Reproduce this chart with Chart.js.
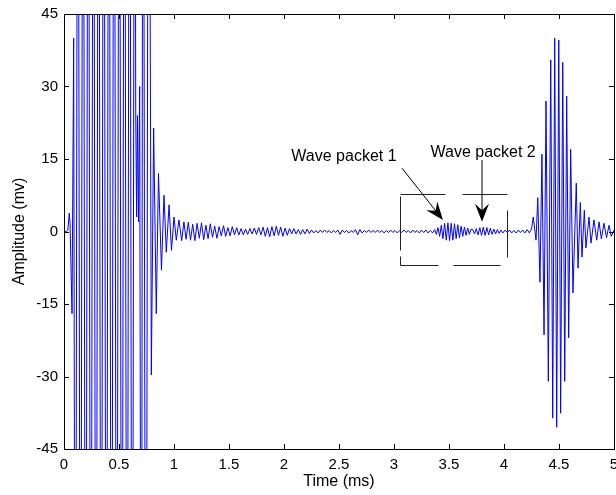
<!DOCTYPE html>
<html>
<head>
<meta charset="utf-8">
<script src="https://cdn.jsdelivr.net/npm/chart.js@4.4.0/dist/chart.umd.min.js"></script>
<style>
  html, body { margin: 0; padding: 0; background: #fff; }
</style>
</head>
<body>
<canvas id="signalChart" width="616" height="495"></canvas>
<script>
// Axis ticks (ms and mV)
const timeTicks = [0, 0.5, 1, 1.5, 2, 2.5, 3, 3.5, 4, 4.5, 5];
const ampTicks = [-45, -30, -15, 0, 15, 30, 45];

// Excitation burst (saturated, goes off the axes) and its ring-down
const onsetTime = [0, 0.02, 0.035, 0.048, 0.055, 0.073, 0.088,
  0.103, 0.126, 0.150, 0.173, 0.197, 0.220, 0.244, 0.267, 0.291, 0.314, 0.338, 0.361,
  0.385, 0.408, 0.432, 0.455, 0.479, 0.502, 0.526, 0.549, 0.573, 0.596, 0.620, 0.643,
  0.652, 0.660, 0.668, 0.677, 0.688, 0.703, 0.718, 0.745, 0.769,
  0.794, 0.815, 0.839, 0.859, 0.886, 0.909, 0.930, 0.955, 0.977, 1.0, 1.021, 1.045];
const onsetAmp = [0, 0, 0.3, 3.8, 1.8, -17, 40,
  -150, 150, -150, 150, -150, 150, -150, 150, -150, 150, -150, 150,
  -150, 150, -150, 150, -150, 150, -150, 150, -150, 150, -150, 150,
  25, 3, 24, 2, 30, -150, 150, -150, 150,
  -29.7, 21.4, -17, 12, -8, 7.5, -4.3, 5.5, -3.9, 3, -1.8, 2.4];

// Residual ripple after the burst
const rippleTime = [1.07, 1.09, 1.11, 1.13, 1.15, 1.17, 1.19, 1.21, 1.23, 1.25,
  1.27, 1.29, 1.31, 1.33, 1.35, 1.37, 1.39, 1.41, 1.43, 1.45,
  1.47, 1.49, 1.51, 1.53, 1.55, 1.57, 1.59, 1.61, 1.63, 1.65,
  1.67, 1.69, 1.71, 1.73, 1.75, 1.77, 1.79, 1.81, 1.83, 1.85,
  1.87, 1.89, 1.91, 1.93, 1.95, 1.97, 1.99, 2.01, 2.03, 2.05,
  2.07, 2.09, 2.11, 2.13, 2.15, 2.17, 2.19, 2.21, 2.23, 2.25];
const rippleAmp = [-1.9, 2.0, -1.6, 1.9, -1.8, 1.5, -1.9, 1.7, -1.4, 1.8,
  -1.7, 1.3, -1.5, 1.6, -1.2, 1.1, -1.4, 1.0, -0.9, 1.2,
  -1.0, 0.8, -0.9, 1.0, -0.7, 0.8, -0.7, 0.6, -0.7, 0.5,
  -0.6, 0.6, -0.5, 0.7, -0.6, 0.8, -0.7, 0.9, -1.0, 0.8,
  -1.1, 1.0, -0.9, 1.1, -0.8, 0.9, -1.0, 0.7, -0.8, 0.6,
  -0.5, 0.6, -0.5, 0.4, -0.6, 0.4, -0.5, 0.5, -0.4, 0.3];

// Quiet stretch
const quietTime = [2.27, 2.29, 2.31, 2.33, 2.35, 2.37, 2.39, 2.41, 2.43, 2.45,
  2.47, 2.49, 2.51, 2.53, 2.55, 2.57, 2.59, 2.61, 2.63, 2.65,
  2.67, 2.69, 2.71, 2.73, 2.75, 2.77, 2.79, 2.81, 2.83, 2.85,
  2.87, 2.89, 2.91, 2.93, 2.95, 2.97, 2.99, 3.01, 3.03, 3.05,
  3.07, 3.09, 3.11, 3.13, 3.15, 3.17, 3.19, 3.21, 3.23, 3.25,
  3.27, 3.29, 3.31, 3.33, 3.35];
const quietAmp = [-0.3, 0.2, -0.3, 0.3, -0.2, 0.3, -0.2, 0.2, -0.3, 0.2,
  -0.2, 0.3, -0.6, 0.3, -0.2, 0.2, -0.3, 0.2, -0.2, 0.4,
  -0.7, 0.4, -0.3, 0.2, -0.2, 0.3, -0.2, 0.2, -0.2, 0.3,
  -0.2, 0.2, -0.3, 0.2, -0.2, 0.3, -0.2, 0.2, -0.3, 0.2,
  -0.2, 0.3, -0.2, 0.2, -0.3, 0.3, -0.2, 0.2, -0.3, 0.3,
  -0.2, 0.3, -0.3, 0.2, -0.3];

// Wave packet 1
const packet1Time = [3.37, 3.385, 3.40, 3.415, 3.43, 3.445, 3.46, 3.475, 3.49, 3.505,
  3.52, 3.535, 3.55, 3.565, 3.58, 3.595, 3.61, 3.625, 3.64, 3.655, 3.67, 3.685, 3.70];
const packet1Amp = [0.4, -0.6, 0.8, -1.0, 1.3, -1.5, 1.7, -1.8, 1.8, -1.9,
  1.7, -1.8, 1.6, -1.5, 1.4, -1.3, 1.1, -1.0, 0.9, -0.8, 0.7, -0.6, 0.5];

// Wave packet 2
const packet2Time = [3.716, 3.732, 3.748, 3.764, 3.78, 3.796, 3.812, 3.828, 3.844,
  3.86, 3.876, 3.892, 3.908, 3.924, 3.94, 3.956, 3.972];
const packet2Amp = [0.4, -0.5, 0.6, -0.7, 0.8, -0.8, 0.9, -0.8, 0.8,
  -0.7, 0.7, -0.6, 0.5, -0.5, 0.4, -0.4, 0.3];

// Before the echo
const gapTime = [3.99, 4.01, 4.03, 4.05, 4.07, 4.09, 4.11, 4.13, 4.15, 4.17, 4.19, 4.21, 4.23, 4.25];
const gapAmp = [-0.3, 0.3, -0.2, 0.3, -0.3, 0.2, -0.3, 0.3, -0.2, 0.3, -0.3, 0.4, -0.3, 0.5];

// Echo from the far end
const echoTime = [4.266, 4.291, 4.307, 4.327, 4.345, 4.364, 4.382, 4.403, 4.425, 4.443,
  4.461, 4.479, 4.498, 4.515, 4.534, 4.552, 4.570, 4.588, 4.606, 4.627,
  4.657, 4.673, 4.694, 4.709, 4.730, 4.745, 4.773, 4.791, 4.818, 4.843,
  4.864, 4.885, 4.909, 4.932, 4.955, 4.975, 5.0];
const echoAmp = [3, -1.8, 7, -10.5, 16, -21.4, 27, -31, 35.5, -38.6,
  40, -40.5, 39.6, -37.6, 35, -31, 28, -22, 17, -12.7,
  10, -7.6, 6, -5.3, 4.4, -3.4, 3, -2.4, 2.4, -1.8,
  2, -1.5, 1.7, -1.3, 1.3, -1, 0.3];

const segments = [
  [onsetTime, onsetAmp], [rippleTime, rippleAmp], [quietTime, quietAmp],
  [packet1Time, packet1Amp], [packet2Time, packet2Amp], [gapTime, gapAmp], [echoTime, echoAmp]
];
const points = [];
segments.forEach(([t, a]) => t.forEach((v, i) => points.push({ x: v, y: a[i] })));

const FONT = "'Liberation Sans', Arial, sans-serif";

// MATLAB-like box with inward ticks, plus the dashed box and arrows
const decorations = {
  id: 'decorations',
  afterDraw(chart) {
    const { ctx, chartArea: a, scales: { x, y } } = chart;
    ctx.save();
    ctx.strokeStyle = '#000';
    ctx.lineWidth = 1;
    ctx.beginPath();
    timeTicks.forEach(v => {
      const px = Math.round(x.getPixelForValue(v)) + 0.5;
      ctx.moveTo(px, a.bottom); ctx.lineTo(px, a.bottom - 5);
      ctx.moveTo(px, a.top); ctx.lineTo(px, a.top + 5);
    });
    ampTicks.forEach(v => {
      const py = Math.round(y.getPixelForValue(v)) + 0.5;
      ctx.moveTo(a.left, py); ctx.lineTo(a.left + 5, py);
      ctx.moveTo(a.right, py); ctx.lineTo(a.right - 5, py);
    });
    ctx.stroke();
    ctx.strokeRect(Math.round(a.left) + 0.5, Math.round(a.top) + 0.5,
      Math.round(a.right - a.left), Math.round(a.bottom - a.top));

    // dashed selection box
    const dash = [
      [3.055, 7.76, 3.464, 7.76], [3.618, 7.76, 4.027, 7.76],
      [4.027, 4.45, 4.027, -5.28],
      [3.055, -6.93, 3.40, -6.93], [3.536, -6.93, 3.964, -6.93],
      [3.055, 7.35, 3.055, -3.83], [3.055, -5.07, 3.055, -6.93]
    ];
    ctx.strokeStyle = '#222';
    ctx.beginPath();
    dash.forEach(([t1, v1, t2, v2]) => {
      ctx.moveTo(Math.round(x.getPixelForValue(t1)) + 0.5, Math.round(y.getPixelForValue(v1)) + 0.5);
      ctx.lineTo(Math.round(x.getPixelForValue(t2)) + 0.5, Math.round(y.getPixelForValue(v2)) + 0.5);
    });
    ctx.stroke();

    // arrows
    const arrow = (t1, v1, t2, v2) => {
      const x1 = x.getPixelForValue(t1), y1 = y.getPixelForValue(v1);
      const x2 = x.getPixelForValue(t2), y2 = y.getPixelForValue(v2);
      const ang = Math.atan2(y2 - y1, x2 - x1);
      const len = 18, half = 7;
      ctx.strokeStyle = '#000';
      ctx.beginPath();
      ctx.moveTo(x1, y1);
      ctx.lineTo(x2 - Math.cos(ang) * 10, y2 - Math.sin(ang) * 10);
      ctx.stroke();
      const bx = x2 - Math.cos(ang) * len, by = y2 - Math.sin(ang) * len;
      const nx = x2 - Math.cos(ang) * len * 0.65, ny = y2 - Math.sin(ang) * len * 0.65;
      ctx.fillStyle = '#000';
      ctx.beginPath();
      ctx.moveTo(x2, y2);
      ctx.lineTo(bx + Math.sin(ang) * half, by - Math.cos(ang) * half);
      ctx.lineTo(nx, ny);
      ctx.lineTo(bx - Math.sin(ang) * half, by + Math.cos(ang) * half);
      ctx.closePath();
      ctx.fill();
    };
    arrow(3.073, 13.1, 3.445, 2.4);
    arrow(3.8, 14.8, 3.8, 2.0);

    ctx.fillStyle = '#000';
    ctx.font = '16px ' + FONT;
    ctx.textAlign = 'center';
    ctx.textBaseline = 'middle';
    ctx.fillText('Wave packet 1', x.getPixelForValue(2.545), y.getPixelForValue(15.4));
    ctx.fillText('Wave packet 2', x.getPixelForValue(3.81), y.getPixelForValue(16.4));
    ctx.restore();
  }
};

new Chart(document.getElementById('signalChart'), {
  type: 'line',
  data: {
    datasets: [{
      data: points,
      borderColor: '#0000ff',
      borderWidth: 1,
      pointRadius: 0,
      tension: 0,
      fill: false
    }]
  },
  options: {
    responsive: false,
    animation: false,
    layout: { padding: { top: 14, right: 2, left: 0, bottom: 0 } },
    plugins: { legend: { display: false }, tooltip: { enabled: false } },
    scales: {
      x: {
        type: 'linear',
        min: 0, max: 5,
        afterFit: s => { s.height = 46; s.paddingLeft = 0; s.paddingRight = 0; },
        afterBuildTicks: s => { s.ticks = timeTicks.map(v => ({ value: v })); },
        grid: { display: false, drawTicks: false },
        border: { display: false },
        ticks: {
          color: '#000', padding: 7, maxRotation: 0, autoSkip: false,
          font: { family: FONT, size: 15 },
          callback: v => String(v)
        },
        title: { display: true, text: 'Time (ms)', color: '#000', padding: { top: 0, bottom: 4 }, font: { family: FONT, size: 16 } }
      },
      y: {
        min: -45, max: 45,
        afterFit: s => { s.width = 64; s.paddingTop = 0; s.paddingBottom = 0; },
        afterBuildTicks: s => { s.ticks = ampTicks.map(v => ({ value: v })); },
        grid: { display: false, drawTicks: false },
        border: { display: false },
        ticks: { color: '#000', padding: 6, font: { family: FONT, size: 15 }, callback: v => String(v) },
        title: { display: true, text: 'Amplitude (mv)', color: '#000', padding: { top: 10, bottom: 0 }, font: { family: FONT, size: 16 } }
      }
    }
  },
  plugins: [decorations]
});
</script>
</body>
</html>
